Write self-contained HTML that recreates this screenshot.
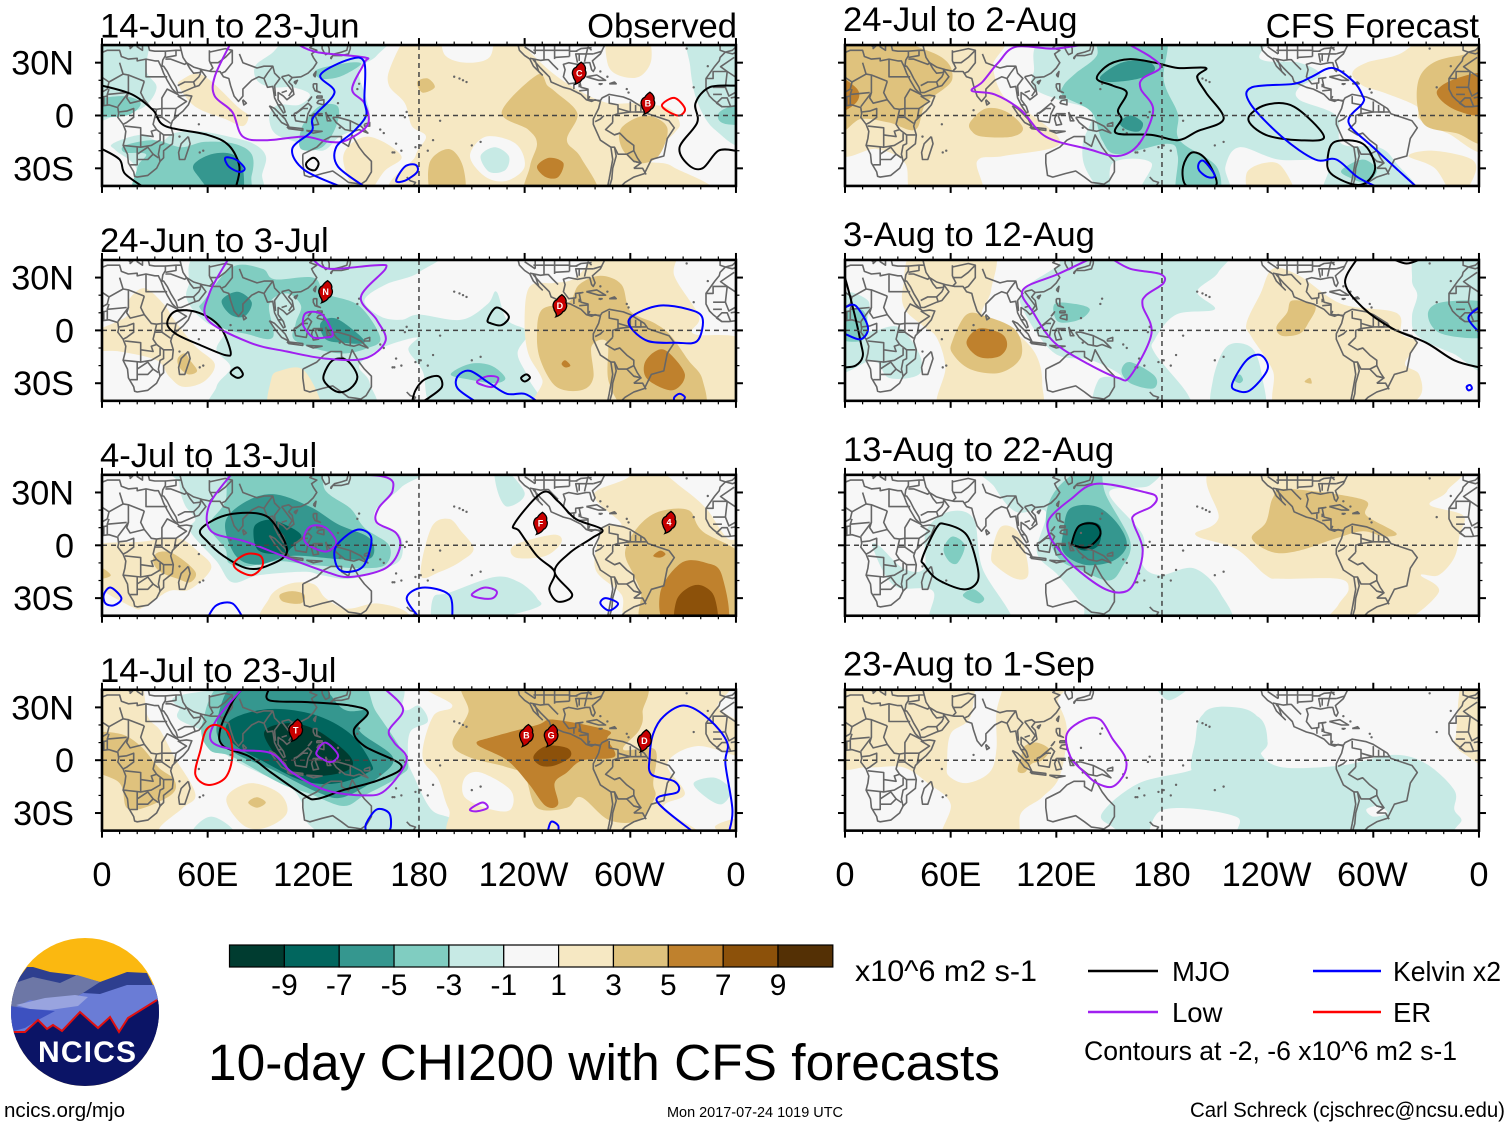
<!DOCTYPE html>
<html lang="en">
<head>
<meta charset="utf-8">
<title>10-day CHI200 with CFS forecasts</title>
<style>
html,body{margin:0;padding:0;background:#fff;}
svg{display:block;font-family:"Liberation Sans",sans-serif;fill:#000;}
</style>
</head>
<body>
<svg id="chart" width="1510" height="1127" viewBox="0 0 1510 1127" xmlns="http://www.w3.org/2000/svg">
<rect width="1510" height="1127" fill="#fff"/>
<g id="panels"></g>
<g font-size="34.6">
<text x="100" y="37.5">14-Jun to 23-Jun</text>
<text x="737" y="37.5" text-anchor="end">Observed</text>
<text x="100" y="252">24-Jun to 3-Jul</text>
<text x="100" y="467">4-Jul to 13-Jul</text>
<text x="100" y="682">14-Jul to 23-Jul</text>
<text x="843" y="31">24-Jul to 2-Aug</text>
<text x="1479" y="37.5" text-anchor="end">CFS Forecast</text>
<text x="843" y="246">3-Aug to 12-Aug</text>
<text x="843" y="461">13-Aug to 22-Aug</text>
<text x="843" y="675.5">23-Aug to 1-Sep</text>
</g>
<g id="colorbar"></g>
<text x="855" y="981" font-size="29.9" textLength="182" lengthAdjust="spacingAndGlyphs">x10^6 m2 s-1</text>
<g font-size="27.5">
<line x1="1088" x2="1158" y1="971" y2="971" stroke="#000" stroke-width="2.4"/>
<text x="1172" y="981">MJO</text>
<line x1="1313" x2="1381" y1="971" y2="971" stroke="#0000ff" stroke-width="2.4"/>
<text x="1393" y="981" textLength="108" lengthAdjust="spacingAndGlyphs">Kelvin x2</text>
<line x1="1088" x2="1158" y1="1012" y2="1012" stroke="#a020f0" stroke-width="2.4"/>
<text x="1172" y="1022">Low</text>
<line x1="1313" x2="1381" y1="1012" y2="1012" stroke="#ff0000" stroke-width="2.4"/>
<text x="1393" y="1022">ER</text>
<text x="1084" y="1060" font-size="26.4" textLength="373" lengthAdjust="spacingAndGlyphs">Contours at -2, -6 x10^6 m2 s-1</text>
</g>
<text x="208" y="1080" font-size="51.4" textLength="792" lengthAdjust="spacingAndGlyphs">10-day CHI200 with CFS forecasts</text>
<text x="4" y="1117" font-size="20.5" textLength="121" lengthAdjust="spacingAndGlyphs">ncics.org/mjo</text>
<text x="667" y="1117" font-size="14.5" textLength="176" lengthAdjust="spacingAndGlyphs">Mon 2017-07-24 1019 UTC</text>
<text x="1190" y="1117" font-size="21" textLength="315" lengthAdjust="spacingAndGlyphs">Carl Schreck (cjschrec@ncsu.edu)</text>
<g>
<clipPath id="logoClip"><circle cx="85" cy="1012" r="74"/></clipPath>
<g clip-path="url(#logoClip)">
<rect x="10" y="937" width="150" height="150" fill="#fbb810"/>
<polygon points="10,1040 10,990 27,967 33,967 50,972 75,975 100,982 127,972 147,973 160,1000 160,1040" fill="#2e3f8f"/>
<polygon points="10,1000 15,983 33,977 60,983 77,975 100,982 83,993 60,1005 10,1010" fill="#6d77a6"/>
<polygon points="10,1010 30,1000 60,1005 83,993 100,994 127,985 155,985 160,1005 160,1040 10,1040" fill="#6a7cd6"/>
<polygon points="16,1005 45,998 75,995 88,997 78,1006 50,1010 30,1009" fill="#99a4df"/>
<polygon points="10,1006 30,1009 55,1011 38,1020 25,1028 10,1032" fill="#3d51c0"/>
<polygon points="5,1032 13,1032 25,1032 38,1020 47,1029 53,1025 62,1031 80,1012 98,1028 110,1017 119,1032 128,1018 157,1000 165,998 165,1095 5,1095" fill="#0b1466"/>
<polyline points="13,1032 25,1032 38,1020 47,1029 53,1025 62,1031 80,1012 98,1028 110,1017 119,1032 128,1018 157,1000" fill="none" stroke="#e01010" stroke-width="2"/>
</g>
<text x="38" y="1062" font-size="30" font-weight="bold" style="fill:#fff" textLength="98" lengthAdjust="spacing">NCICS</text>
</g>
</svg>
<script>
/* ---------- shared legend / axis data ---------- */
const levelValues = [-10,-8,-6,-4,-2,0,2,4,6,8,10];
const levelColors = ["#003c30","#01665e","#35978f","#80cdc1","#c7eae5","#f7f7f7","#f6e8c3","#dfc27d","#bf812d","#8c510a","#543005"];
const colorbarTicks = ["-9","-7","-5","-3","-1","1","3","5","7","9"];
const lonTickValues = [0,60,120,180,240,300,360];
const lonTickLabels = ["0","60E","120E","180","120W","60W","0"];
const latTickValues = [30,0,-30];
const latTickLabels = ["30N","0","30S"];

/* ---------- geography (lon, lat pairs) ---------- */
const coastlines = [
[-6,36,-9,33,-9.5,31,-12,28,-17,21,-17,15,-15,11,-13,9,-8,5,-4,5,0,5.5,4,6,9,4.5,9.5,1,9,-1,12,-5,13.5,-9,13,-13,12,-17,14.5,-22,15,-27,18,-32,18.5,-34.5,20,-35,26,-34,31,-30,33,-26,35,-24,35,-20,40,-16,40.5,-11,39,-6,40,-3,43,0,46,2.5,49,6,51,11,48,11.5,44,11,43,12,40,15,37,20,35,24,33.5,28,32.5,30,32,31,30,31,25,32,20,31,20,32.5,15,32,11,33.5,10,37,3,37,-2,35,-6,36],
[0,39,-2,37,-6,36,-9,37,-9,41],
[3,42,0,40],[12,42,16,39,16,38,18,40],[20,42,20,39,23,37,23,40,27,41],
[26,41,27,37,30,36.5,36,36.5,36,34,34.5,31.5,34,28,35,28,37,25,39,21,42,16,43,13,45,13,52,16,55,17,59,22,56,26,56,24.5,52,24,50,26.5,48,30,52,27.5,57,26,62,25,67,25,69,22,72,21,73,17,75,11,77.5,8,80,11,80,15,85,20,89,22,92,21,94,16,97,16.5,98,10,100,6,103,1.5,104,2,103,5,100,9,100,13,103,11,105,9,109,12,108,17,106,19,108,21.5,113,22,117,24,120,27,122,30,120,33,119,35,122,37,118,38.5,121,41],
[125,41,125,38,126,36,127,34.5,129,35.5,129,38,128,41],
[130,32,131,34,136,34,140,35,141,38,141,41,140,41,139,37,136,36,132,35,130,33,130,32],
[120,23,121.5,25,121,22,120,23],[109,19,111,20,110,18,109,19],
[80,9,82,7,80.5,6,80,8,80,9],
[120,18,122,18,122,14,124,13,121,14,120,16,120,18],[122,7,126,6,126,9,123,8.5,122,7],[122,11,125,11,125,10,122,10,122,11],[117,8,119,10.5,118,9,117,8],
[95,5.5,98,4,104,-2,106,-6,102,-4,98,1,95,5.5],
[105,-6.5,114,-7.5,114,-8.5,106,-7.5,105,-6.5],[116,-8.5,125,-9,120,-10,116,-8.5],
[109,1,111,2,117,7,119,5,117,1,116,-4,110,-3,109,1],
[120,1,125,1,121,0,123,-5,120,-5.5,119,-2,120,1],
[127,2,128,-3,130,-3,128,0,127,2],
[131,-1,134,-1,141,-3,147,-6,151,-10,146,-8,143,-9,138,-8,133,-4,131,-1],
[149,-5,152,-4,152,-6,149,-6,149,-5],
[114,-22,122,-18,126,-14,130,-12,136,-12,136,-15,140,-17.5,142,-11,146,-18,149,-22,153,-26,153,-32,150,-37,147,-39,144,-38.5,140,-38,136,-35,131,-31.5,125,-33,118,-35,115,-34,114,-27,114,-22],
[49,-12,50,-16,47,-25,44,-25,43.5,-21,45,-16,49,-12],
[173,-35,175,-37,178,-38,176,-41],
[236,41,237,37,240,34,243,32,245,28,250,23,248,25,246,31,245,31.5,249,27,254,22,255,19,262,16,266,15,272,12,275,9,278,8,280,9,283,8,282,4,279,-2,279,-5,283,-14,289,-18,290,-25,288,-36,287,-41],
[294,-41,297,-38,302,-35,308,-33,312,-25,319,-23,321,-13,325,-7,322,-3,316,-1,310,1,308,4,300,9,296,10.5,288,12,284,10,283,8.5,276,9,276,15,272,16,271,21,273,21.5,269,21,269,18.5,265,18,262,22,263,26,262,29,265,30,270,29,275,30,277,30,278,26,279,25,280,27,278.5,31,283,35,284,37,286,41],
[275,22,281,23,286,20,282,20,275,22],[288,18,291,19,292,18,288,18],[282,18,284,18,283,17.6,282,18]
];
const borders = [
[25,32,25,22,37,22],[24,19.5,15,23,12,23.5,10,30],[12,23.5,4,19,-5,25,-8.7,27.7,-1,33],[-17,21,-13,21,-13,25,-5,25,-6,16,-13,16],[-6,16,-4,11,3,15,4,19],
[24,19.5,22,13,24,9,16,7,14,10,15,13,9,5],[24,9,28,4,31,3.5,34,4,42,4,41,-2],[34,4,34,10,37,15,43,12],[42,4,48,8,43,11],[34,-1,39,-4.5],[31,3.5,30,-1,34,-1,34,4],
[30,-1,29,-5,31,-8,28,-9,29,-12,22,-11,22,-7,13,-6],[12,-5,14,-4,18,-1,18,4,14,2.5,9.5,2],[3,6,3,12,14,13],[3,12,4,15],[15,23,15,13],
[31,-8,35,-11,40,-11],[35,-11,35,-16,33,-17,32,-22,33,-26],[22,-11,22,-18,28,-17,33,-14,33,-10],[12,-17,22,-18],[20,-18,20,-28,16,-28],[20,-22,26,-18,29,-22,26,-25,20,-25],[29,-22,32,-24],
[-8,5,-11,7,-8,10,-5,10,-3,5],[-3,10,3,11],[1,6,1,11],[-13,12,-8,12],
[36,32,39,32,47,29,48,30],[43,17,47,19,52,19,53,16],[52,19,55,22,56,24],[45,37,46,33,48,30],[61,37,61,31,63,27,61,25],[61,36,70,38,74,37,70,33,66,30,61,30],
[74,37,74,30,70,25,68,24],[78,35,80,30,88,27,92,28,97,28,94,24,92,21],[97,28,98,24,101,21,98,17,98.5,11],[102,22,105,18,108,14,106,11],[105,14,102,13],[102,22,106,23,108,21.5],[36,36.5,42,37,45,37,44,41],[36,33,42,34,42,37],[100,6,102,6],[110,1,114,4,117,4],[141,-3,141,-9],
[243,32.5,249,31.3,252,31.7,253.5,31.7,256,29,259,26],[246,35,246,41],[251,31.5,251,41],[257,32,257,41],[265.5,33.5,265.5,41],[245,37,266,37],[240,39,246,35],[257,33,265.5,33.5],[265.5,36.5,270,36.5],[270,30,269,35,271,35],[274,30.5,275,35,271,35,279,35],[279,35,284,36.5],[276,39,278,37],[269,36.5,272,38,278,38.5],[271,31,271,35],[275,35,276,39],
[268,18,268,15],[271,14,276,14.5],[277,11,276,9],[271,18,271,16],
[288,11,288,7,293,6,293,1],[280,-3.5,283,-2,285,0],[293,1,290,0,290,-4],[290,-4,286,-8,291,-11,294,-10],[291,-11,294,-10,298,-14,302,-17,302,-20,298,-22,293,-22,291,-18,289,-18],[291,-18,292,-23,290,-30,289.5,-36,288,-41],[298,-22,302,-26,306,-27,304,-24,302,-20],[302,-30,307,-30,309,-33.5],[302,-26,306,-27,302,-30],[300,8,300,2,293,4],[303,6,303,2,306,2,306,5],[293,1,300,2,309,2]
];
const islandLon = [200,203,205,207,145,146,158,160,167,166,178,188,185,210,215,173,172,192,57.5,55.5,73,44,55,-28,-16,-24,298,299,283,287,170,181,165,134,135];
const islandLat = [22,21,20,19,15,18,-8,-10,-16,-21,-18,-14,-20,-17,-15,2,-1,-3,-20,-21,3,-12,-5,38,28,16,15,13,25,22,-20,-17,-21,7,-7];

/* ---------- panel 1: 14-Jun to 23-Jun ---------- */
const p1Fills = [
[-2,[0,41,25,41,25,26,31,16,24,5,10,1,0,0]],
[-2,[6,-16,22,-11,33,-15,41,-10,55,-9,72,-12,86,-16,93,-23,91,-33,86,-41,24,-41,19,-29,8,-20]],
[-2,[87,28,96,35,113,41,163,41,156,34,146,26,150,10,152,0,148,-6,135,-12,125,-20,110,-15,98,-10,95,0,100,6,112,6,118,12,108,16,96,16,88,20]],
[-2,[334,41,360,41,360,-14,348,-8,338,8,334,28]],
[-4,[0,8,12,11,22,7,14,0,0,0]],
[-4,[122,26,140,30,147,29,135,22,124,21]],
[-4,[118,0,125,6,134,5,133,-6,125,-18,113,-19,113,-8]],
[-4,[13,-17,30,-14,45,-18,58,-15,75,-16,85,-22,85,-34,78,-41,22,-41,20,-30,25,-22,13,-21]],
[-4,[360,7,352,3,350,-2,355,-5,360,-4]],
[-6,[52,-28,62,-22,74,-22,80,-30,79,-41,66,-41,55,-35]],
[2,[175,41,164,28,163,17,172,7,176,-6,184,-12,178,-23,174,-41,340,-41,324,-29,310,-25,325,-10,328,-4,322,4,305,7,288,7,273,13,256,24,241,38,232,41,224,41,220,33,207,30,195,34,190,41]],
[2,[288,41,287,30,293,23,305,22,312,32,308,41]],
[2,[45,20,57,23,77,5,83,0,80,-6,70,-2,53,5,44,16]],
[2,[137,-23,151,-12,170,-23,160,-32,150,-41,145,-41]],
[0,[209,-23,218,-12,235,-16,240,-29,230,-37,218,-35]],
[-2,[215,-23,223,-18,231,-23,229,-31,220,-32]],
[4,[247,23,227,2,242,-8,247,-16,243,-29,242,-41,281,-41,272,-24,264,-14,270,1,258,13,253,17]],
[4,[179,19,185,21,189,16,182,13]],
[4,[186,-27,197,-19,205,-29,205,-41,188,-41]],
[4,[295,-7,309,0,321,-7,316,-23,304,-27,295,-18]],
[6,[247,-29,254,-24,262,-27,259,-35,252,-35]]
];
const p1Mjo = [[0,17,17,12,29,3,36,-6,60,-11,72,-17,78,-29,76,-41],[0,-19,10,-25,13,-33,24,-41],[116,-27,120,-24,123,-27,121,-31,117,-30],[360,17,345,16,337,7,338,-4,328,-18,333,-28,341,-30,350,-20,360,-20]];
const p1Low = [[73,41,64,22,64,11,74,2,80,-12,94,-14,115,-12,129,-15,139,-14,151,-5,149,7,142,15,149,30,149,33,122,36,110,41]];
const p1Kelvin = [[137,-41,115,-31,108,-19,119,-9,120,-1,132,13,124,23,141,32,149,30,149,9,150,0,143,-9,133,-18,134,-29,150,-41],[70,-24,76,-25,81,-30,78,-32,72,-29],[167,-37,172,-29,178,-28,179,-32,172,-37]];
const p1Er = [[318,6,325,10,331,4,328,0,322,2]];
const p1StormNames = ["C","B"];
const p1StormLon = [271,310];
const p1StormLat = [24,7];

/* ---------- panel 2: 24-Jun to 3-Jul ---------- */
const p2Fills = [
[-2,[49,25,65,41,187,41,180,33,161,26,149,17,158,8,170,6,180,9,204,6,219,15,224,22,230,6,242,-1,236,-13,242,-27,248,-41,192,-41,182,-23,174,-11,179,-4,161,-9,151,-15,146,-21,152,-30,149,-41,67,-41,65,-32,73,-21,65,-11,70,0,60,4,50,14]],
[2,[96,-28,101,-23,115,-23,124,-41,96,-41]],
[-4,[56,12,58,17,74,36,91,35,98,29,120,30,127,21,146,14,158,-4,151,-10,134,-13,110,-6,110,4,113,14,105,21,95,15,97,-4,82,-2,67,2]],
[-6,[68,17,77,22,85,16,81,8,73,9]],
[-6,[124,4,132,7,143,0,149,-7,137,-7,127,-5]],
[-4,[198,-25,209,-19,221,-20,229,-27,223,-30,209,-28]],
[2,[240,6,243,25,257,27,269,30,288,41,325,41,325,31,339,8,336,-2,360,-7,360,-41,254,-41,250,-28,242,-13]],
[4,[247,-2,250,12,265,16,271,26,283,31,295,26,300,11,314,4,323,-3,333,-17,341,-28,340,-41,302,-41,288,-30,287,-7,278,-9,279,-27,272,-34,258,-32,249,-17]],
[6,[308,-19,314,-12,321,-12,331,-25,324,-34,310,-28]],
[6,[261,-19,263,-17,266,-20,263,-21]],
[2,[0,-2,14,8,15,17,24,24,35,15,41,6,53,-9,64,-19,58,-29,46,-32,38,-26,31,-17,10,-12,0,-11]],
[2,[0,-30,5,-41,0,-41]],
[4,[43,-16,47,-13,50,-17,54,-23,49,-25,44,-21]]
];
const p2Mjo = [[37,4,42,11,55,10,67,2,73,-12,70,-14,55,-8,42,-2],[73,-24,77,-21,80,-25,77,-27],[126,-25,131,-17,139,-17,145,-26,141,-33,134,-35,127,-30],[176,-41,178,-34,183,-28,191,-26,193,-32,186,-38,181,-41],[219,6,224,13,231,8,227,3,221,4],[238,-27,241,-25,243,-27,240,-29]];
const p2Low = [[72,41,61,21,60,6,84,-7,105,-12,127,-16,149,-16,161,-6,156,6,147,19,161,35,156,37,129,35,119,41],[114,4,116,10,125,9,131,-2,127,-4,120,-4,116,0],[213,-29,219,-26,225,-27,222,-32,216,-31]];
const p2Kelvin = [[213,-41,202,-33,202,-26,209,-23,220,-30,230,-36,240,-36,248,-41],[301,8,316,14,333,12,341,7,338,-6,326,-7,310,-6,300,2],[325,-41,325,-38,328,-36,331,-38,329,-41]];
const p2Er = [];
const p2StormNames = ["N","D"];
const p2StormLon = [127,260];
const p2StormLat = [22,14];

/* ---------- panel 3: 4-Jul to 13-Jul ---------- */
const p3Fills = [
[-2,[44,35,47,41,180,41,170,33,156,21,156,12,169,6,170,-7,161,-13,141,-19,125,-17,115,-15,89,-17,74,-21,65,-9,50,8,53,15,47,23]],
[-2,[188,-30,197,-27,223,-18,237,-21,247,-30,245,-36,199,-41,188,-41]],
[-2,[224,41,240,30,230,22,224,33]],
[-4,[62,14,70,25,76,41,120,41,127,31,141,21,149,10,163,0,161,-11,146,-13,118,-11,100,-9,82,-12,72,-10,70,-2,62,8]],
[-6,[70,13,82,25,98,29,118,22,134,12,152,4,153,-7,137,-8,108,-6,89,-11,76,-6]],
[-8,[86,8,89,13,98,14,113,6,107,-2,103,-5,89,-3]],
[2,[0,-1,22,2,43,4,55,-4,62,-13,50,-25,38,-26,24,-35,17,-35,0,-20]],
[4,[29,-9,32,-4,41,-5,53,-15,50,-21,43,-19,33,-15]],
[4,[0,-10,5,-17,0,-19]],
[2,[95,-30,106,-22,120,-22,127,-30,139,-36,156,-33,173,-38,171,-41,95,-41]],
[4,[101,-28,108,-26,115,-28,113,-33,103,-32]],
[2,[181,-17,187,10,197,15,204,8,211,-2,204,-9,192,-15]],
[2,[234,0,256,6,261,2,252,-6,235,-7]],
[2,[281,31,298,38,309,41,329,33,343,21,355,4,360,0,360,-41,302,-41,295,-28,280,-13,285,10,295,12,281,25]],
[4,[297,-4,304,10,316,19,333,20,341,8,360,-9,360,-41,310,-41,306,-27,302,-17]],
[6,[317,-27,329,-10,343,-10,352,-17,354,-41,322,-41]],
[6,[313,-6,317,-3,320,-5,317,-7]],
[8,[326,-32,333,-24,341,-23,348,-30,348,-41,327,-41]]
];
const p3Mjo = [[56,9,70,17,89,18,98,12,105,-4,93,-12,82,-13,69,-6,60,2],[234,12,250,30,259,25,269,15,284,9,278,4,266,-4,257,-15,267,-28,259,-32,254,-25,257,-15,247,-6,237,8]];
const p3Low = [[74,41,61,23,62,8,82,2,105,-7,127,-15,141,-18,161,-13,169,-2,167,7,156,13,157,21,165,31,160,39,122,41],[115,6,119,11,127,10,133,2,129,-3,124,-3,116,1],[210,-28,217,-24,224,-26,222,-30,215,-30]];
const p3Kelvin = [[132,-3,137,4,146,9,153,4,149,-11,141,-15,134,-13],[1,-28,5,-24,11,-30,7,-34,2,-33],[60,-41,65,-34,74,-33,80,-41],[180,-41,173,-30,182,-24,197,-28,199,-41],[283,-33,286,-30,293,-33,288,-37]];
const p3Er = [[75,-10,82,-5,90,-6,91,-12,85,-17,77,-14]];
const p3StormNames = ["F","4"];
const p3StormLon = [249,322];
const p3StormLat = [12.5,13];

/* ---------- panel 4: 14-Jul to 23-Jul ---------- */
const p4Fills = [
[-2,[44,29,50,38,160,41,171,29,180,31,185,22,175,16,174,0,177,-9,187,-28,199,-34,199,-41,140,-41,118,-37,113,-23,106,-15,89,-7,72,2,60,15,44,23]],
[-2,[52,-39,62,-32,74,-39,74,-41,52,-41]],
[-2,[336,-13,348,-10,357,-17,352,-25,343,-21]],
[-4,[57,21,74,41,141,41,156,27,173,0,169,-9,149,-20,137,-26,118,-19,101,-13,74,2,61,6]],
[-6,[65,19,78,41,118,41,137,29,151,28,146,17,165,2,158,-9,137,-21,122,-18,98,-6,74,5]],
[-8,[72,22,94,29,120,26,141,15,153,-2,151,-7,134,-13,115,-12,94,-2,74,10]],
[-10,[92,15,105,21,122,17,141,2,139,-6,120,-9,105,-4]],
[2,[0,41,20,41,26,25,33,17,41,2,53,-19,46,-27,33,-38,31,-41,0,-41]],
[4,[0,14,10,15,22,8,32,-4,41,-11,40,-19,24,-27,14,-27,10,-13,0,-4]],
[2,[72,-19,85,-13,101,-19,105,-30,94,-38,82,-38,72,-27]],
[4,[83,-24,88,-21,93,-24,88,-27]],
[2,[189,41,199,31,188,25,182,2,191,-11,197,-28,209,-41,336,-41,319,-27,331,-19,321,-2,338,8,360,2,360,18,350,30,345,41]],
[0,[206,-10,215,-7,232,-17,232,-28,221,-28,206,-21]],
[2,[348,-38,360,-33,360,-41]],
[4,[199,10,208,27,211,41,302,41,307,27,305,17,296,6,314,6,313,-13,314,-21,305,-34,288,-34,272,-21,264,-27,247,-27,240,-9,230,-4,208,2]],
[6,[213,9,221,13,247,20,257,23,287,17,287,12,291,2,273,0,264,-7,257,-13,259,-25,252,-26,242,-13,230,0]],
[8,[245,2,252,8,264,7,266,2,257,-3,249,-3]]
];
const p4Mjo = [[95,41,95,34,117,33,141,31,151,27,143,17,149,8,170,-3,158,-11,137,-17,122,-22,115,-20,96,-7,84,2,69,8,67,17,74,33,80,41]];
const p4Low = [[80,41,65,23,62,11,75,6,96,4,108,-7,127,-17,149,-20,161,-17,173,0,166,10,163,17,171,29,160,41],[122,5,127,10,134,3,130,-1,123,2],[209,-28,216,-24,219,-27,213,-29]];
const p4Kelvin = [[150,-41,150,-36,156,-28,163,-30,164,-38,162,-41],[253,-41,255,-35,259,-37,259,-41],[336,-41,315,-23,327,-18,325,-12,312,-8,311,2,313,15,319,25,331,31,345,23,355,10,354,-2,358,-28,356,-41]];
const p4Er = [[59,17,65,20,72,15,74,2,70,-10,60,-14,53,-8,56,6]];
const p4StormNames = ["T","B","G","D"];
const p4StormLon = [110,241,255,308];
const p4StormLat = [17,14,14,11];

/* ---------- panel 5: 24-Jul to 2-Aug ---------- */
const p5Fills = [
[2,[0,41,86,41,84,28,90,11,104,2,122,-16,90,-23,75,-26,77,-41,40,-41,34,-27,18,-19,0,-19]],
[4,[0,41,49,36,61,21,46,7,40,-8,25,-4,9,-2,0,-8]],
[6,[0,22,7,15,6,7,0,2]],
[2,[288,24,296,30,315,35,334,41,360,41,360,-18,342,-10,326,-2,325,5,306,13,294,17]],
[4,[326,21,334,30,349,34,360,34,360,-14,347,-10,330,-6,325,6]],
[6,[336,13,347,21,360,23,360,1,347,3]],
[2,[228,-33,238,-27,248,-29,255,-41,232,-41]],
[2,[320,-23,334,-20,356,-25,357,-35,347,-41,335,-30]],
[4,[71,-4,80,4,92,2,101,-7,95,-12,78,-12,72,-9]],
[-2,[107,24,121,41,230,41,236,32,258,30,270,23,258,16,258,9,279,0,282,-16,303,-18,313,-27,325,-41,274,-41,274,-27,246,-25,224,-18,216,-29,216,-41,169,-41,174,-27,152,-27,150,-41,137,-31,135,-16,140,2,121,9,108,15]],
[-4,[124,17,131,24,143,34,145,41,181,41,181,20,189,1,190,-14,211,-29,211,-41,189,-41,189,-23,183,-16,155,-22,146,-14,140,2,124,11]],
[-6,[145,22,157,30,171,31,176,26,167,21,150,19]],
[-6,[156,-4,162,0,169,-4,167,-9,160,-8]],
[-4,[282,-31,294,-25,302,-31,296,-38,286,-35]]
];
const p5Mjo = [[143,21,150,29,162,32,176,30,189,27,205,27,200,22,205,13,215,-2,200,-9,189,-14,174,-11,154,-10,157,-2,155,3,160,13,152,17],[229,-2,239,6,255,5,272,-12,258,-14,239,-11],[274,-25,278,-15,294,-16,301,-29,296,-38,288,-39,276,-33],[192,-29,197,-21,205,-25,211,-39,200,-41,193,-39]];
const p5Low = [[139,41,119,38,97,39,87,30,78,19,72,14,85,12,100,3,114,-12,138,-19,155,-23,167,-16,175,3,168,15,169,21,179,27,174,33,160,41]];
const p5Kelvin = [[201,-27,204,-26,210,-34,206,-35,201,-31],[325,-41,301,-19,286,-4,294,7,294,11,289,19,277,27,265,22,255,18,231,16,230,7,248,-12,267,-25,279,-25,291,-35,303,-41]];
const p5Er = [];
const p5StormNames = [];
const p5StormLon = [];
const p5StormLat = [];

/* ---------- panel 6: 3-Aug to 12-Aug ---------- */
const p6Fills = [
[2,[34,12,33,25,41,41,83,41,83,23,78,8,95,0,108,-13,112,-30,107,-41,55,-41,57,-21,52,-4,45,2]],
[4,[61,-6,69,9,80,8,97,0,100,-15,88,-24,71,-22,61,-13]],
[6,[69,-7,76,1,89,-2,92,-9,87,-15,76,-15]],
[2,[243,35,258,31,282,15,313,10,316,-2,325,-7,318,-19,326,-25,326,-38,306,-41,248,-41,243,-23,231,-4,228,4,236,21]],
[4,[245,2,251,10,254,17,267,14,263,4,258,-2,248,-3]],
[4,[261,-29,264,-27,265,-30,263,-30]],
[-2,[101,23,121,37,128,41,213,41,212,33,200,22,210,12,188,9,176,-5,176,-13,195,-37,193,-41,145,-41,144,-28,157,-26,140,-17,119,-13,102,10]],
[-4,[119,15,131,15,139,12,133,6,121,5]],
[-4,[157,-23,162,-18,176,-26,175,-33,162,-30]],
[-2,[209,-28,217,-9,231,-10,237,-27,237,-41,210,-41]],
[-4,[221,-28,224,-25,226,-28,224,-30]],
[-2,[327,41,360,41,360,-20,345,-13,325,-3,322,8,325,20,322,29]],
[-4,[331,9,339,16,360,15,360,-3,339,-2]],
[-2,[0,19,13,17,13,0,30,2,42,-13,42,-25,25,-27,16,-17,0,-23]],
[-4,[0,8,9,12,13,2,9,-6,0,-4]]
];
const p6Mjo = [[360,-21,346,-17,330,-7,311,1,294,13,284,27,291,41],[310,41,319,38,328,41],[0,30,4,15,9,-7,10,-15,6,-20,0,-21]];
const p6Low = [[140,41,121,32,101,23,107,10,119,-7,138,-19,155,-27,162,-26,174,-2,169,14,171,20,181,27,179,32,162,35,151,41]];
const p6Kelvin = [[0,13,6,14,13,2,9,-5,0,-2],[360,13,354,7,360,-1],[220,-30,228,-17,236,-14,240,-22,230,-34,222,-34],[353,-32,355,-31,356,-33,354,-34]];
const p6Er = [];
const p6StormNames = [];
const p6StormLon = [];
const p6StormLat = [];

/* ---------- panel 7: 13-Aug to 22-Aug ---------- */
const p7Fills = [
[-2,[80,41,172,41,173,34,150,30,169,6,169,-11,179,-17,198,-13,213,-27,215,-41,143,-41,135,-34,121,-17,109,-4,114,19,97,19,85,33]],
[-2,[50,-41,50,-26,28,-23,16,-2,19,0,33,-13,45,-13,46,8,59,19,73,15,78,-13,95,-41]],
[-4,[67,-28,73,-25,79,-30,76,-33,70,-31]],
[-4,[56,-2,61,5,68,0,64,-10,59,-9]],
[-4,[114,14,121,33,143,41,148,29,162,2,157,-13,150,-20,136,-15,121,-7]],
[-6,[124,8,128,21,143,22,155,12,160,0,152,-9,136,-11,124,-4]],
[-8,[130,6,136,13,145,11,144,0,136,-3,130,0]],
[2,[83,-6,88,10,97,9,102,-2,104,-17,97,-19,86,-12]],
[2,[199,6,212,15,215,41,342,41,342,31,332,23,351,17,349,6,346,-7,337,-17,327,-17,337,-27,310,-41,273,-41,280,-34,286,-25,280,-19,248,-19,239,-17,222,-2]],
[4,[231,4,239,13,243,27,251,32,294,26,296,17,313,7,306,5,294,8,279,4,258,-3,243,-4]]
];
const p7Mjo = [[44,-7,52,10,57,12,69,6,75,-11,75,-21,67,-25,52,-19,45,-11],[129,2,133,11,142,12,145,6,138,-1,130,0]];
const p7Low = [[116,15,128,26,143,35,171,30,177,27,174,22,164,17,164,12,169,-2,166,-17,160,-26,148,-25,131,-13,121,-2,116,6]];
const p7Kelvin = [];
const p7Er = [];
const p7StormNames = [];
const p7StormLon = [];
const p7StormLat = [];

/* ---------- panel 8: 23-Aug to 1-Sep ---------- */
const p8Fills = [
[2,[0,41,116,41,121,33,126,17,122,-9,112,-21,100,-30,95,-41,56,-41,60,-25,47,-13,33,-4,13,-4,0,-1]],
[0,[58,-2,60,15,71,24,76,41,90,41,86,27,86,6,82,-7,69,-13,59,-9]],
[4,[102,8,109,10,116,6,112,0,106,-2,102,-7,98,-6,100,2]],
[2,[347,15,351,41,360,41,360,0,351,4,346,10]],
[-2,[146,-30,167,-13,200,-4,199,11,205,27,234,25,240,10,236,4,248,-4,282,-3,311,3,330,-2,346,-17,346,-28,349,-36,325,-41,230,-41,222,-32,181,-28,169,-41,152,-38]],
[-2,[198,-8,199,11,205,28,222,30,234,25,240,10,236,2,246,-8,220,-14]],
[-2,[176,41,184,34,200,41]],
[0,[296,-28,303,-26,308,-30,300,-32]]
];
const p8Mjo = [];
const p8Low = [[126,15,136,23,145,23,152,12,159,2,159,-7,152,-15,143,-13,136,-7,128,2]];
const p8Kelvin = [];
const p8Er = [];
const p8StormNames = [];
const p8StormLon = [];
const p8StormLat = [];

/* ---------- drawing ---------- */
const NS = "http://www.w3.org/2000/svg";
const PX_PER_DEG = 1.761;
function svgEl(tag, parent, attrs) {
  const el = document.createElementNS(NS, tag);
  for (const k in attrs) el.setAttribute(k, attrs[k]);
  parent.appendChild(el);
  return el;
}
function levelColor(v) { return levelColors[levelValues.indexOf(v)]; }
function makeAxes(col, row) {
  const x0 = 102 + col * 743;
  const eq = 115.5 + row * 214.9;
  return {
    x0: x0, eq: eq,
    x: function (lon) { return x0 + lon * PX_PER_DEG; },
    y: function (lat) { return eq - lat * PX_PER_DEG; }
  };
}
function spline(pts, closed) {
  const n = pts.length;
  const at = function (i) {
    if (closed) return pts[(i + n) % n];
    return pts[Math.max(0, Math.min(n - 1, i))];
  };
  let d = "M" + pts[0][0].toFixed(1) + "," + pts[0][1].toFixed(1);
  const segs = closed ? n : n - 1;
  for (let i = 0; i < segs; i++) {
    const p0 = at(i - 1), p1 = at(i), p2 = at(i + 1), p3 = at(i + 2);
    const c1x = p1[0] + (p2[0] - p0[0]) / 6, c1y = p1[1] + (p2[1] - p0[1]) / 6;
    const c2x = p2[0] - (p3[0] - p1[0]) / 6, c2y = p2[1] - (p3[1] - p1[1]) / 6;
    d += "C" + c1x.toFixed(1) + "," + c1y.toFixed(1) + " " + c2x.toFixed(1) + "," + c2y.toFixed(1) + " " + p2[0].toFixed(1) + "," + p2[1].toFixed(1);
  }
  return d + (closed ? "Z" : "");
}
function toPairs(flat, ax, pushEdges) {
  const out = [];
  for (let i = 0; i < flat.length; i += 2) {
    let lon = flat[i], lat = flat[i + 1];
    if (pushEdges) {
      if (lon <= 0) lon -= 6;
      if (lon >= 360) lon += 6;
      if (lat >= 40) lat += 6;
      if (lat <= -40) lat -= 6;
    }
    out.push([ax.x(lon), ax.y(lat)]);
  }
  return out;
}
function isOpen(flat) {
  const lon = flat[0], lat = flat[1];
  return lon <= 0 || lon >= 360 || lat >= 40 || lat <= -40;
}
function drawFills(g, fills, ax) {
  fills.forEach(function (f) {
    const el = svgEl("path", g, { d: spline(toPairs(f[1], ax, true), true), fill: levelColor(f[0]) });
    
    
  });
}
function drawMap(g, ax) {
  [-360, 0, 360].forEach(function (shift) {
    coastlines.concat(borders).forEach(function (line) {
      let pts = "";
      for (let i = 0; i < line.length; i += 2) pts += ax.x(line[i] + shift).toFixed(1) + "," + ax.y(line[i + 1]).toFixed(1) + " ";
      const el = svgEl("polyline", g, { points: pts, fill: "none", stroke: "#666", "stroke-width": 1.6, "stroke-linejoin": "round" });
      
      
    });
    islandLon.forEach(function (lon, i) {
      const el = svgEl("circle", g, { cx: ax.x(lon + shift), cy: ax.y(islandLat[i]), r: 1.2, fill: "#666" });
      
      
    });
  });
}
function drawContours(g, lines, color, name, ax) {
  lines.forEach(function (line) {
    const el = svgEl("path", g, { d: spline(toPairs(line, ax, false), !isOpen(line)), fill: "none", stroke: color, "stroke-width": 2 });
    
    
  });
}
function drawStorms(g, names, lons, lats, ax) {
  names.forEach(function (name, i) {
    const sg = svgEl("g", g, { transform: "translate(" + ax.x(lons[i]).toFixed(1) + "," + ax.y(lats[i]).toFixed(1) + ")" });
    
    
    svgEl("path", sg, { d: "M2,-11C5,-9 7,-6 6,-3C8,0 6,5 3,6C2,8 -1,10 -4,11C-2,8 -6,6 -6,3C-8,-1 -6,-5 -3,-6C-2,-8 -1,-9 2,-11Z", fill: "#c80000", stroke: "#000", "stroke-width": 1.3 });
    const t = svgEl("text", sg, { x: 0, y: 3.2, "text-anchor": "middle", "font-size": 9, "font-weight": "bold", style: "fill:#fff" });
    t.textContent = name;
  });
}
function drawFrame(g, ax, showY, showX) {
  const xL = ax.x(0), xR = ax.x(360), yT = ax.y(40), yB = ax.y(-40);
  function tick(x1, y1, x2, y2, w) {
    const el = svgEl("line", g, { x1: x1, y1: y1, x2: x2, y2: y2, stroke: "#000", "stroke-width": w });
    
    
  }
  for (let lon = 0; lon <= 360; lon += 10) {
    const major = lon % 60 === 0;
    const len = major ? 7 : 3.5;
    tick(ax.x(lon), yT, ax.x(lon), yT - len, major ? 2 : 1.2);
    tick(ax.x(lon), yB, ax.x(lon), yB + len, major ? 2 : 1.2);
  }
  for (let lat = -30; lat <= 30; lat += 10) {
    const major = lat % 30 === 0;
    const len = major ? 7 : 3.5;
    tick(xL, ax.y(lat), xL - len, ax.y(lat), major ? 2 : 1.2);
    tick(xR, ax.y(lat), xR + len, ax.y(lat), major ? 2 : 1.2);
  }
  const fr = svgEl("rect", g, { x: xL, y: yT, width: xR - xL, height: yB - yT, fill: "none", stroke: "#000", "stroke-width": 2.6 });
  
  
  if (showY) latTickValues.forEach(function (lat, i) {
    const t = svgEl("text", g, { x: 74, y: (ax.y(lat) + 12).toFixed(1), "text-anchor": "end", "font-size": 34.2 });
    
    
    t.textContent = latTickLabels[i];
  });
  if (showX) lonTickValues.forEach(function (lon, i) {
    const t = svgEl("text", g, { x: (ax.x(lon) - (lon === 240 || lon === 300 ? 1 : 0)).toFixed(1), y: 886, "text-anchor": "middle", "font-size": 34.4 });
    
    
    t.textContent = lonTickLabels[i];
  });
}
function drawPanel(idx, col, row, fills, mjo, low, kelvin, er, stormNames, stormLon, stormLat) {
  const root = document.getElementById("panels");
  const ax = makeAxes(col, row);
  const g = svgEl("g", root, {});
  
  
  const clip = svgEl("clipPath", g, { id: "clip" + idx });
  svgEl("rect", clip, { x: ax.x(0), y: ax.y(40), width: ax.x(360) - ax.x(0), height: ax.y(-40) - ax.y(40) });
  const inner = svgEl("g", g, { "clip-path": "url(#clip" + idx + ")" });
  const bg = svgEl("rect", inner, { x: ax.x(0), y: ax.y(40), width: ax.x(360) - ax.x(0), height: ax.y(-40) - ax.y(40), fill: levelColor(0) });
  
  
  drawFills(inner, fills, ax);
  drawMap(inner, ax);
  drawContours(inner, mjo, "#000000", "mjo-contour", ax);
  drawContours(inner, low, "#a020f0", "low-contour", ax);
  drawContours(inner, kelvin, "#0000ff", "kelvin-contour", ax);
  drawContours(inner, er, "#ff0000", "er-contour", ax);
  const eqLine = svgEl("line", inner, { x1: ax.x(0), x2: ax.x(360), y1: ax.y(0), y2: ax.y(0), stroke: "#444", "stroke-width": 1.5, "stroke-dasharray": "5 4" });
  
  
  const dateLine = svgEl("line", inner, { x1: ax.x(180), x2: ax.x(180), y1: ax.y(40), y2: ax.y(-40), stroke: "#444", "stroke-width": 1.5, "stroke-dasharray": "5 4" });
  
  
  drawStorms(inner, stormNames, stormLon, stormLat, ax);
  drawFrame(g, ax, col === 0, row === 3);
}
drawPanel(1,0,0,p1Fills,p1Mjo,p1Low,p1Kelvin,p1Er,p1StormNames,p1StormLon,p1StormLat);
drawPanel(2,0,1,p2Fills,p2Mjo,p2Low,p2Kelvin,p2Er,p2StormNames,p2StormLon,p2StormLat);
drawPanel(3,0,2,p3Fills,p3Mjo,p3Low,p3Kelvin,p3Er,p3StormNames,p3StormLon,p3StormLat);
drawPanel(4,0,3,p4Fills,p4Mjo,p4Low,p4Kelvin,p4Er,p4StormNames,p4StormLon,p4StormLat);
drawPanel(5,1,0,p5Fills,p5Mjo,p5Low,p5Kelvin,p5Er,p5StormNames,p5StormLon,p5StormLat);
drawPanel(6,1,1,p6Fills,p6Mjo,p6Low,p6Kelvin,p6Er,p6StormNames,p6StormLon,p6StormLat);
drawPanel(7,1,2,p7Fills,p7Mjo,p7Low,p7Kelvin,p7Er,p7StormNames,p7StormLon,p7StormLat);
drawPanel(8,1,3,p8Fills,p8Mjo,p8Low,p8Kelvin,p8Er,p8StormNames,p8StormLon,p8StormLat);

/* colorbar */
(function () {
  const g = document.getElementById("colorbar");
  const x0 = 229.5, boxW = 54.85;
  levelColors.forEach(function (c, i) {
    const r = svgEl("rect", g, { x: x0 + i * boxW, y: 945, width: boxW, height: 22, fill: c, stroke: "#000", "stroke-width": 1.2 });
    
    
  });
  colorbarTicks.forEach(function (label, i) {
    const t = svgEl("text", g, { x: (x0 + (i + 1) * boxW).toFixed(1), y: 995, "text-anchor": "middle", "font-size": 29.9 });
    
    
    t.textContent = label;
  });
})();
</script>
</body>
</html>
